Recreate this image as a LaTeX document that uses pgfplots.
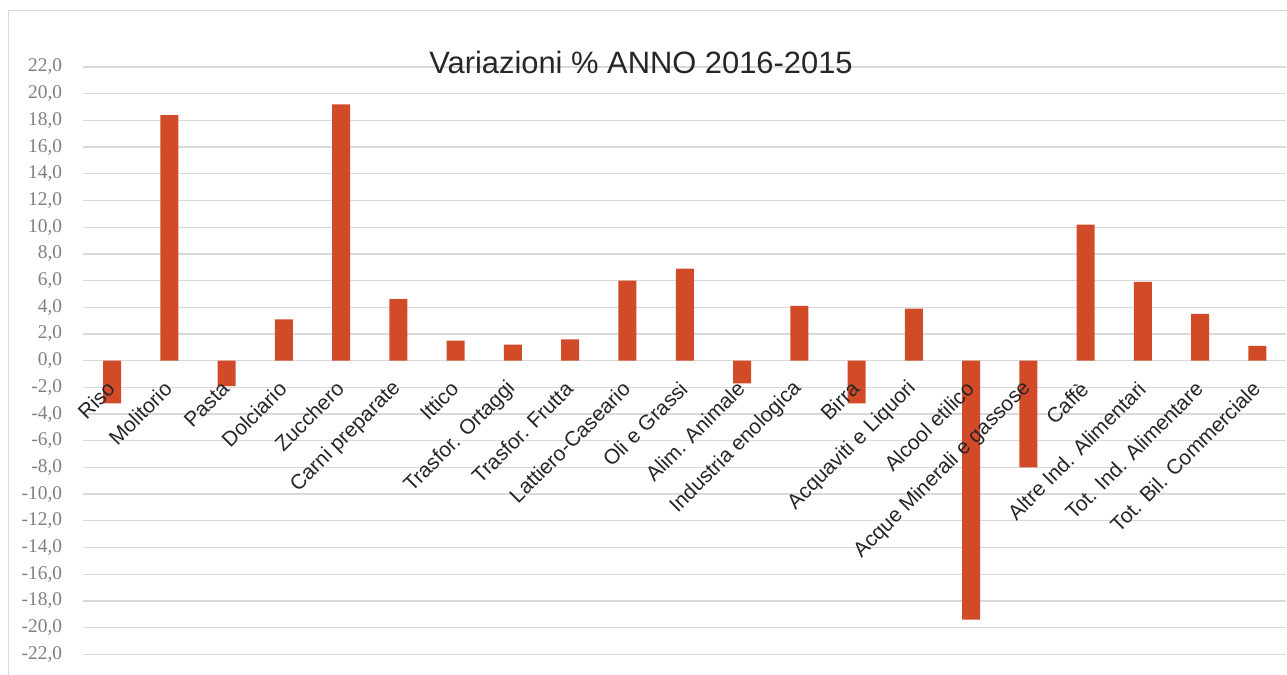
\documentclass[border=0pt]{standalone}
\usepackage{fontspec}
\setmainfont{Liberation Sans}
\newfontfamily\tnr{Liberation Serif}
\usepackage{pgfplots}
\pgfplotsset{compat=1.18}
\definecolor{barc}{RGB}{210,75,40}
\definecolor{gridc}{RGB}{217,217,217}
\definecolor{tickc}{RGB}{128,128,128}
\definecolor{txtc}{RGB}{38,38,38}
\pgfplotsset{
  myframe/.style={
    at={(83.4bp,20.7bp)}, anchor=south west,
    width=1202.7bp, height=587.3bp, scale only axis,
    xmin=-0.5, xmax=20.5, ymin=-22, ymax=22,
    enlargelimits=false,
    axis line style={draw=none},
    major tick length=0pt,
  }
}
\begin{document}
\begin{tikzpicture}
\useasboundingbox (0bp,0bp) rectangle (1287bp,675bp);
\begin{scope}
\clip (0bp,0bp) rectangle (1287bp,675bp);
\draw[gridc, line width=1.3bp] (8.3bp,-20bp) -- (8.3bp,664.7bp) -- (1300bp,664.7bp);
\end{scope}
% grid and bars
\begin{axis}[
  myframe,
  ymajorgrids, grid style={gridc, line width=1.3bp},
  ytick={-22,-20,...,22}, yticklabels={},
  xtick={0,...,20}, xticklabels={},
  ybar, bar width=18bp,
]
\addplot[fill=barc, draw=none] coordinates {
(0,-3.2) (1,18.4) (2,-1.9) (3,3.1) (4,19.2) (5,4.6) (6,1.5) (7,1.2) (8,1.6) (9,6.0) (10,6.9)
(11,-1.7) (12,4.1) (13,-3.2) (14,3.9) (15,-19.4) (16,-8.0) (17,10.2) (18,5.9) (19,3.5) (20,1.1)
};
\end{axis}
% tick labels on top of the bars
\begin{axis}[
  myframe,
  ytick={-22,-20,...,22},
  xtick={0,...,20},
  xticklabels={Riso, Molitorio, Pasta, Dolciario, Zucchero, Carni preparate, Ittico, Trasfor. Ortaggi, Trasfor. Frutta, Lattiero-Caseario, Oli e Grassi, Alim. Animale, Industria enologica, Birra, Acquaviti e Liquori, Alcool etilico, Acque Minerali e gassose, Caffè, Altre Ind. Alimentari, Tot. Ind. Alimentare, Tot. Bil. Commerciale},
  xticklabel style={yshift=269bp, xshift=-1bp, rotate=45, anchor=east, inner sep=0pt, font=\fontsize{21}{25}\selectfont, text=txtc},
  /pgf/number format/assume math mode=true,
  yticklabel style={anchor=east, inner sep=0pt, xshift=-21bp, font=\tnr\fontsize{19.5}{23}\selectfont, text=tickc, /pgf/number format/.cd, fixed, fixed zerofill, precision=1, use comma},
]
\end{axis}
\node[font=\fontsize{31}{37}\selectfont, text=txtc, anchor=base] at (641bp,601.7bp) {Variazioni \% ANNO 2016-2015};
\end{tikzpicture}
\end{document}
